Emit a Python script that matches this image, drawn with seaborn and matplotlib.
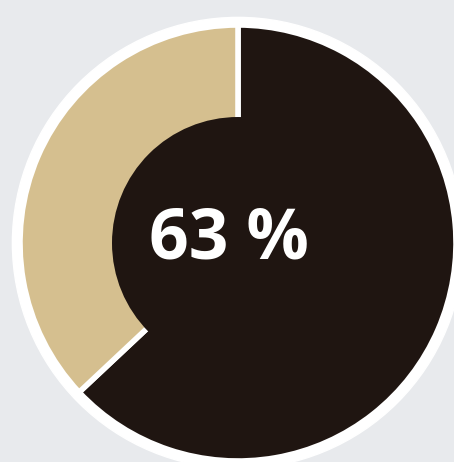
import matplotlib
matplotlib.use("Agg")
import matplotlib.pyplot as plt
import seaborn as sns

# Share values
categories = ["Yes", "No"]
shares = [63, 37]
label_text = "63 %"

sns.set_style("white")
plt.rcParams['font.family'] = ['Open Sans', 'DejaVu Sans']

bg = "#e8eaed"
colors = ["#1f1511", "#d5bf8f"]

fig = plt.figure(figsize=(4.54, 4.62), dpi=100)
fig.patch.set_facecolor(bg)
ax = fig.add_axes([0, 0, 1, 1])
ax.set_facecolor(bg)

# white outer ring behind the donut
ax.add_patch(plt.Circle((0, 0), 1.035, color="white", zorder=0))

ax.pie(shares, colors=colors, startangle=90, counterclock=False,
       radius=1.0,
       wedgeprops=dict(width=1 - 122 / 218, edgecolor="white", linewidth=4))

# dark filled centre, covering the inner edge lines
ax.add_patch(plt.Circle((0, 0), 126 / 218, color=colors[0], lw=0, zorder=5))

ax.text(-0.04, 0.01, label_text, color="white", fontsize=50, fontweight="bold",
        ha="center", va="center", zorder=6)

ax.set_xlim(-238 / 218, (454 - 238) / 218)
ax.set_ylim(-(462 - 243) / 218, 243 / 218)
ax.set_aspect("auto")
ax.axis("off")

fig.savefig("out.png", dpi=100, facecolor=bg)
